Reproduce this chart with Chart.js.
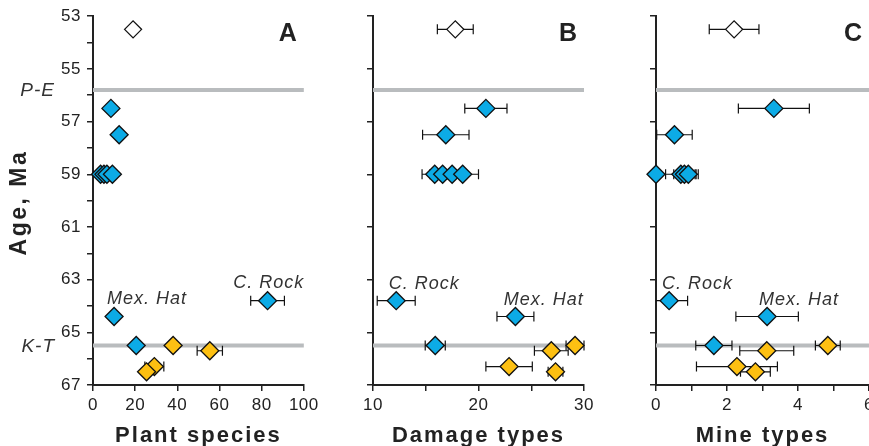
<!DOCTYPE html>
<html>
<head>
<meta charset="utf-8">
<script src="https://cdn.jsdelivr.net/npm/chart.js@4.4.0/dist/chart.umd.min.js"></script>
<style>
html, body { margin: 0; padding: 0; background: #fff; overflow: hidden; }
body { width: 869px; height: 446px; position: relative; }
canvas { position: absolute; top: 0; }
</style>
</head>
<body>
<canvas id="plant" width="322" height="446" style="left:0"></canvas>
<canvas id="damage" width="278" height="446" style="left:322px"></canvas>
<canvas id="mine" width="290" height="446" style="left:600px"></canvas>
<script>
// ages (Ma), shared by the three panels
const whiteAges = [53.5];
const blueAges = [56.5, 57.5, 59, 59, 59, 59, 63.8, 64.4, 65.5];
const yellowAges = [65.5, 65.7, 66.3, 66.5];
const boundaryNames = ['P-E', 'K-T'];
const boundaryAges = [55.8, 65.5];
const siteNames = ['C. Rock', 'Mex. Hat'];

// A - plant species
const plantWhite = [19];
const plantWhiteErr = [0];
const plantBlue = [8.5, 12.4, 3.6, 5.2, 6.6, 9.2, 82.8, 10, 20.5];
const plantBlueErr = [0, 0, 0, 0, 0, 0, 8, 0, 0];
const plantYellow = [38, 55.4, 29.1, 25.4];
const plantYellowErr = [0, 6, 4.5, 0];

// B - damage types
const damageWhite = [17.8];
const damageWhiteErr = [1.7];
const damageBlue = [20.7, 16.9, 15.85, 16.6, 17.5, 18.5, 12.2, 23.5, 15.9];
const damageBlueErr = [2, 2.2, 1.2, 1.2, 1.3, 1.5, 1.8, 1.75, 0.95];
const damageYellow = [29.15, 26.9, 22.9, 27.3];
const damageYellowErr = [0.85, 1.6, 2.2, 0.7];

// C - mine types
const mineWhite = [2.2];
const mineWhiteErr = [0.7];
const mineBlue = [3.32, 0.52, 0, 0.7, 0.8, 0.91, 0.37, 3.13, 1.63];
const mineBlueErr = [1, 0.5, 0, 0.43, 0.3, 0.28, 0.52, 0.88, 0.51];
const mineYellow = [4.84, 3.12, 2.28, 2.8];
const mineYellowErr = [0.35, 0.76, 1.14, 0.42];

const INK = '#222';
const BLUE = '#0cabe6';
const YELLOW = '#fdc012';
const GREY = '#b9bcbe';

Chart.defaults.font.family = "'Liberation Sans', Arial, sans-serif";
Chart.defaults.color = INK;

const pts = (xs, ys) => xs.map((x, i) => ({ x: x, y: ys[i] }));

// error bars, drawn just under their own markers, cut at the axes
const errorBars = {
    id: 'errorBars',
    beforeDatasetDraw(chart, args) {
        const ds = chart.data.datasets[args.index];
        if (!ds.errors) return;
        const { ctx, chartArea: a, scales: { x, y } } = chart;
        ctx.save();
        ctx.beginPath();
        ctx.rect(a.left, a.top - 10, a.width + 3, a.height + 20);
        ctx.clip();
        ctx.strokeStyle = '#111';
        ctx.lineWidth = 1.2;
        ds.data.forEach((p, i) => {
            const e = ds.errors[i];
            if (!e) return;
            const x0 = x.getPixelForValue(p.x - e);
            const x1 = x.getPixelForValue(p.x + e);
            const py = y.getPixelForValue(p.y);
            ctx.beginPath();
            ctx.moveTo(x0, py); ctx.lineTo(x1, py);
            ctx.moveTo(x0, py - 5); ctx.lineTo(x0, py + 5);
            ctx.moveTo(x1, py - 5); ctx.lineTo(x1, py + 5);
            ctx.stroke();
        });
        ctx.restore();
    }
};

// letters, axis titles, site names, boundary names
const panelText = {
    id: 'panelText',
    beforeDraw(chart) {
        chart.ctx.letterSpacing = '0.5px';
    },
    afterDraw(chart, args, opts) {
        const { ctx, chartArea: a, scales: { x, y } } = chart;
        ctx.save();
        ctx.fillStyle = INK;

        ctx.letterSpacing = '0px';
        ctx.font = "bold 25px 'Liberation Sans', Arial, sans-serif";
        ctx.textAlign = 'right';
        ctx.textBaseline = 'alphabetic';
        ctx.fillText(opts.letter, a.right - 7, 41);

        ctx.letterSpacing = '2px';
        ctx.font = "bold 22px 'Liberation Sans', Arial, sans-serif";
        ctx.textAlign = 'center';
        ctx.fillText(opts.title, (a.left + a.right) / 2, 442);

        ctx.letterSpacing = '1px';
        ctx.fillStyle = '#333';
        ctx.font = "italic 18px 'Liberation Sans', Arial, sans-serif";
        ctx.textAlign = 'left';
        opts.sites.forEach((s, i) => {
            ctx.fillText(siteNames[i], x.getPixelForValue(s[0]), y.getPixelForValue(s[1]));
        });

        if (opts.ageAxis) {
            ctx.font = "italic 19px 'Liberation Sans', Arial, sans-serif";
            ctx.textAlign = 'right';
            ctx.textBaseline = 'middle';
            boundaryNames.forEach((n, i) => {
                ctx.fillText(n, 55, y.getPixelForValue(boundaryAges[i]) + 1);
            });

            ctx.fillStyle = INK;
            ctx.letterSpacing = '2.5px';
            ctx.font = "bold 23px 'Liberation Sans', Arial, sans-serif";
            ctx.translate(26, (a.top + a.bottom) / 2 + 2);
            ctx.rotate(-Math.PI / 2);
            ctx.textAlign = 'center';
            ctx.textBaseline = 'alphabetic';
            ctx.fillText('Age, Ma', 0, 0);
        }
        ctx.restore();
    }
};

const makePanel = (id, p) => {
    const marker = (label, xs, errs, ages, fill, r) => ({
        label: label,
        data: pts(xs, ages),
        errors: errs,
        pointStyle: 'rectRot',
        pointRadius: r,
        pointBackgroundColor: fill,
        pointBorderColor: '#111',
        pointBorderWidth: 1.3,
        clip: false,
        order: 1
    });
    const boundary = (age) => ({
        type: 'line',
        data: [{ x: p.min, y: age }, { x: p.max, y: age }],
        borderColor: GREY,
        borderWidth: 4,
        pointRadius: 0,
        clip: 2,
        order: 3
    });

    return new Chart(document.getElementById(id), {
        type: 'scatter',
        data: {
            datasets: [
                marker('white', p.white, p.whiteErr, whiteAges, '#fff', 8.5),
                marker('blue', p.blue, p.blueErr, blueAges, BLUE, 9),
                marker('yellow', p.yellow, p.yellowErr, yellowAges, YELLOW, 9),
                ...boundaryAges.map(boundary)
            ]
        },
        options: {
            responsive: false,
            animation: false,
            events: [],
            layout: { padding: { top: 15, right: p.padRight, bottom: 0, left: 0 } },
            plugins: {
                legend: { display: false },
                tooltip: { enabled: false },
                panelText: { letter: p.letter, title: p.title, sites: p.sites, ageAxis: p.ageAxis }
            },
            scales: {
                x: {
                    type: 'linear',
                    min: p.min,
                    max: p.max,
                    ticks: {
                        stepSize: p.step,
                        autoSkip: false,
                        maxRotation: 0,
                        padding: 4,
                        font: { size: 17 },
                        color: INK,
                        callback: v => (Math.round((v - p.min) / p.step) % p.every === 0 ? v : '')
                    },
                    grid: { drawOnChartArea: false, tickLength: 6, color: INK, lineWidth: 1.5 },
                    border: { color: INK, width: 2 },
                    afterFit: s => { s.height = 61; }
                },
                y: {
                    type: 'linear',
                    reverse: true,
                    min: 53,
                    max: 67,
                    ticks: {
                        stepSize: p.ageAxis ? 1 : 2,
                        autoSkip: false,
                        padding: 6,
                        font: { size: 17 },
                        color: INK,
                        callback: v => (p.ageAxis && v % 2 === 1 ? v : '')
                    },
                    grid: { drawOnChartArea: false, tickLength: 6, color: INK, lineWidth: 1.5 },
                    border: { color: INK, width: 2 },
                    afterFit: s => { s.width = p.axisWidth; }
                }
            }
        },
        plugins: [errorBars, panelText]
    });
};

makePanel('plant', {
    letter: 'A', title: 'Plant species', ageAxis: true,
    min: 0, max: 100, step: 20, every: 1, axisWidth: 93, padRight: 16,
    white: plantWhite, whiteErr: plantWhiteErr,
    blue: plantBlue, blueErr: plantBlueErr,
    yellow: plantYellow, yellowErr: plantYellowErr,
    sites: [[66.5, 63.33], [6.6, 63.93]]
});

makePanel('damage', {
    letter: 'B', title: 'Damage types', ageAxis: false,
    min: 10, max: 30, step: 5, every: 2, axisWidth: 51, padRight: 16,
    white: damageWhite, whiteErr: damageWhiteErr,
    blue: damageBlue, blueErr: damageBlueErr,
    yellow: damageYellow, yellowErr: damageYellowErr,
    sites: [[11.5, 63.34], [22.4, 63.97]]
});

makePanel('mine', {
    letter: 'C', title: 'Mine types', ageAxis: false,
    min: 0, max: 6, step: 1, every: 2, axisWidth: 56, padRight: 21,
    white: mineWhite, whiteErr: mineWhiteErr,
    blue: mineBlue, blueErr: mineBlueErr,
    yellow: mineYellow, yellowErr: mineYellowErr,
    sites: [[0.17, 63.34], [2.9, 63.97]]
});
</script>
</body>
</html>
